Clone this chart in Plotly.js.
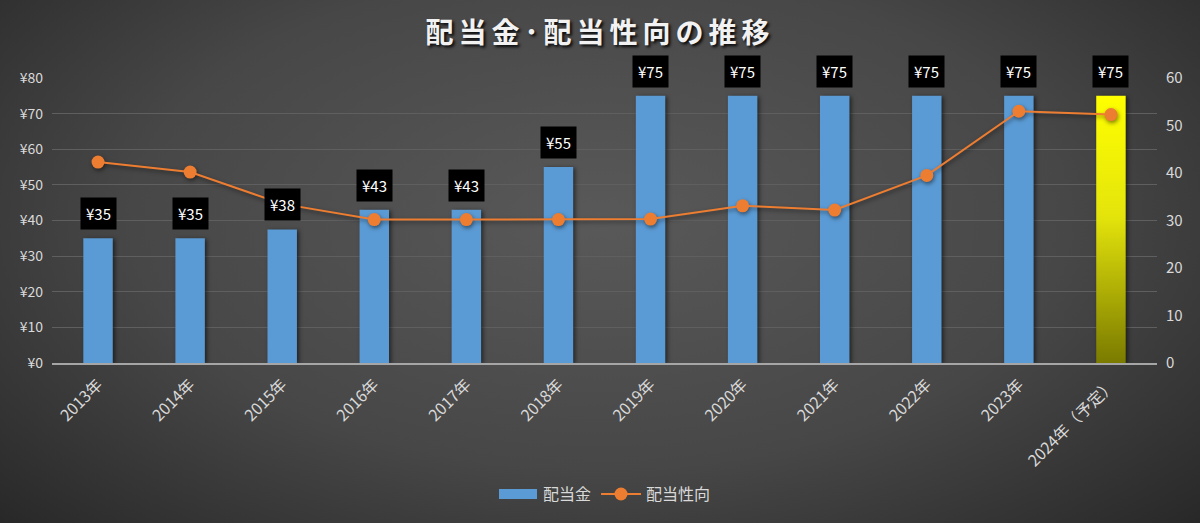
<!DOCTYPE html>
<html>
<head>
<meta charset="utf-8">
<script src="https://cdn.plot.ly/plotly-3.0.1.min.js"></script>
<style>
  html, body { margin: 0; padding: 0; width: 1200px; height: 523px; overflow: hidden; }
  body { background: radial-gradient(ellipse 78% 95% at 50% 42%, #595959 0%, #474747 50%, #2b2b2b 85%, #1d1d1d 100%); }
  #chart { width: 1200px; height: 523px; }
  .gtitle { letter-spacing: 5px; }
  .barlayer .point path { filter: drop-shadow(2px 1px 2px rgba(0,0,0,0.55)); }
  .scatterlayer .trace { filter: drop-shadow(1px 2px 2px rgba(0,0,0,0.5)); }
</style>
</head>
<body>
<svg width="0" height="0" style="position:absolute">
  <defs>
    <linearGradient id="forecastGrad" x1="0" y1="0" x2="0" y2="1">
      <stop offset="0%" stop-color="#ffff00"/>
      <stop offset="45%" stop-color="#e4e40c"/>
      <stop offset="100%" stop-color="#7a7a00"/>
    </linearGradient>
  </defs>
</svg>
<div id="chart"></div>
<script>
// Data
const years = ['2013年', '2014年', '2015年', '2016年', '2017年', '2018年',
               '2019年', '2020年', '2021年', '2022年', '2023年', '2024年（予定）'];
const dividend = [35, 35, 37.5, 43, 43, 55, 75, 75, 75, 75, 75, 75];   // 配当金 (円)
const payoutRatio = [42.3, 40.2, 33.5, 30.2, 30.2, 30.2, 30.3, 33.1, 32.2, 39.5, 53.0, 52.3]; // 配当性向 (%)

const textColor = '#d9d9d9';
const baseFont = '"Noto Sans CJK JP", "Noto Sans", sans-serif';

const traceBar = {
    x: years, y: dividend, type: 'bar', name: '配当金',
    marker: { color: '#5b9bd5' },
    hoverinfo: 'skip'
};
const traceLine = {
    x: years, y: payoutRatio, type: 'scatter', mode: 'lines+markers', name: '配当性向',
    yaxis: 'y2',
    line: { color: '#ed7d31', width: 2 },
    marker: { color: '#ed7d31', size: 13 },
    hoverinfo: 'skip'
};

// value labels in black boxes above each bar
const labels = dividend.map((v, i) => ({
    x: years[i], y: v, xref: 'x', yref: 'y',
    text: '¥' + Math.round(v),
    showarrow: false, yanchor: 'bottom', yshift: 8,
    bgcolor: '#000000', borderpad: 5,
    font: { color: '#ffffff', size: 15, family: baseFont }
}));

const layout = {
    width: 1200, height: 523,
    paper_bgcolor: 'rgba(0,0,0,0)',
    plot_bgcolor: 'rgba(0,0,0,0)',
    font: { family: baseFont, color: textColor, size: 13 },
    margin: { t: 78, l: 52, r: 43, b: 160 },
    title: {
        text: '配当金･配当性向の推移',
        x: 0.5, xanchor: 'center', y: 1 - 33 / 523, yanchor: 'middle', yref: 'container',
        font: { size: 28, color: '#f2f2f2', weight: 'bold', family: baseFont,
                shadow: '2px 2px 3px rgba(0,0,0,0.9)' }
    },
    bargap: 0.68,
    xaxis: {
        range: [-0.5, years.length - 0.5],
        tickangle: -45, showgrid: false, automargin: false,
        showline: true, linecolor: '#a6a6a6', linewidth: 2,
        ticks: '', ticklabelstandoff: 4, tickfont: { size: 16, color: textColor }
    },
    yaxis: {
        range: [0, 80], dtick: 10, tickprefix: '¥', automargin: false,
        gridcolor: '#5f5f5f', gridwidth: 1, zeroline: false,
        ticks: '', ticklabelstandoff: 8, tickfont: { size: 14, color: textColor }
    },
    yaxis2: {
        range: [0, 60], dtick: 10, overlaying: 'y', side: 'right', automargin: false,
        showgrid: false, zeroline: false, ticks: '', ticklabelstandoff: 8,
        tickfont: { size: 15, color: textColor }
    },
    legend: {
        orientation: 'h', x: 0.5, xanchor: 'center', y: -0.46, yanchor: 'middle',
        itemwidth: 40,
        font: { size: 16, color: textColor }, bgcolor: 'rgba(0,0,0,0)'
    },
    annotations: labels,
    showlegend: true
};

Plotly.newPlot('chart', [traceBar, traceLine], layout, { displayModeBar: false, staticPlot: true })
    .then(() => {
        // forecast year bar gets the yellow gradient
        const bars = document.querySelectorAll('.barlayer .point path');
        const last = bars[bars.length - 1];
        if (last) last.style.fill = 'url(#forecastGrad)';
        // wide legend swatch for the bar series
        const swatch = document.querySelector('.legend .legendbar path, .legend .legendpoints path');
        if (swatch) swatch.setAttribute('d', 'M19,5H-19V-5H19Z');
    });
</script>
</body>
</html>
